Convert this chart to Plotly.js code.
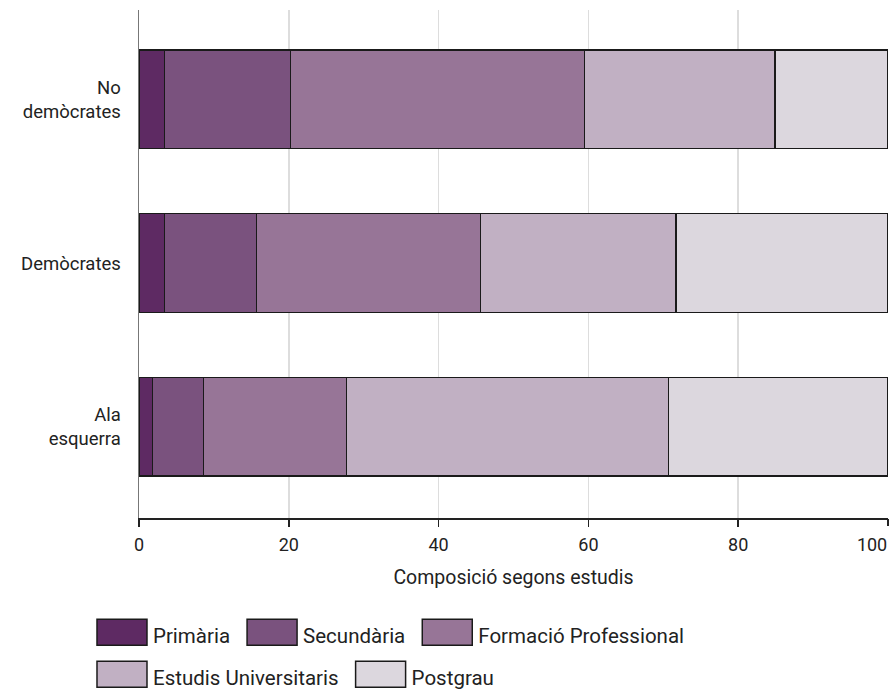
<!DOCTYPE html>
<html>
<head>
<meta charset="utf-8">
<script src="https://cdn.plot.ly/plotly-3.0.1.min.js"></script>
<style>
  html, body { margin: 0; padding: 0; background: #ffffff; overflow: hidden; }
  #chart { width: 890px; height: 694px; }
</style>
</head>
<body>
<div id="chart"></div>
<script>
// Categories, bottom to top as drawn on the y axis
const categories = ["Ala<br>esquerra", "Demòcrates", "No<br>demòcrates"];

// Shares (%) of each education level per group
const primaria      = [1.8, 3.4, 3.4];
const secundaria    = [6.8, 12.3, 16.8];
const formacioProf  = [19.1, 29.9, 39.3];
const universitaris = [43.0, 26.1, 25.4];
const postgrau      = [29.3, 28.3, 15.1];

const seriesNames  = ["Primària", "Secundària", "Formació Professional", "Estudis Universitaris", "Postgrau"];
const seriesColors = ["#5e2a63", "#7a527e", "#977597", "#c1b0c3", "#dcd7de"];
const seriesValues = [primaria, secundaria, formacioProf, universitaris, postgrau];
const legendOf     = ["legend", "legend", "legend", "legend2", "legend2"];

const xTicks = [0, 20, 40, 60, 80];
const xLastTick = [100];

const FONT = "Roboto, 'DejaVu Sans', sans-serif";

const traces = seriesNames.map((name, i) => ({
  type: "bar",
  orientation: "h",
  name: name,
  y: categories,
  x: seriesValues[i],
  marker: { color: seriesColors[i], line: { color: "#1a1a1a", width: 1.5 } },
  legend: legendOf[i],
  hoverinfo: "x+name"
}));

// invisible anchor so that the overlay axis carrying the end label is drawn
traces.push({
  type: "scatter", mode: "markers",
  x: xLastTick, y: [categories[1]],
  xaxis: "x2", yaxis: "y",
  marker: { opacity: 0, size: 1 },
  showlegend: false, hoverinfo: "skip"
});

const layout = {
  width: 890,
  height: 694,
  margin: { l: 139, r: 2, t: 10, b: 176 },
  paper_bgcolor: "#ffffff",
  plot_bgcolor: "#ffffff",
  barmode: "stack",
  bargap: 0.396,
  font: { family: FONT, size: 18, color: "#222222" },
  showlegend: true,
  xaxis: {
    range: [0, 100],
    tickvals: xTicks,
    ticks: "outside",
    ticklen: 7,
    tickwidth: 1.5,
    tickcolor: "#222222",
    ticklabelstandoff: 3,
    showline: true,
    linecolor: "#222222",
    linewidth: 1.5,
    showgrid: true,
    gridcolor: "#dddddd",
    gridwidth: 1.5,
    zeroline: false,
    automargin: false,
    tickfont: { family: FONT, size: 18, color: "#222222" },
    title: { text: "Composició segons estudis", font: { family: FONT, size: 19.5, color: "#222222" }, standoff: 16 },
    fixedrange: true
  },
  xaxis2: {
    overlaying: "x",
    anchor: "y",
    side: "bottom",
    range: [0, 100],
    tickvals: xLastTick,
    ticks: "outside",
    ticklen: 7,
    tickwidth: 1.5,
    tickcolor: "#222222",
    ticklabelposition: "outside left",
    ticklabelstandoff: 10,
    showline: false,
    showgrid: true,
    gridcolor: "#dddddd",
    gridwidth: 1.5,
    zeroline: false,
    automargin: false,
    tickfont: { family: FONT, size: 18, color: "#222222" },
    fixedrange: true
  },
  yaxis: {
    type: "category",
    categoryorder: "array",
    categoryarray: categories,
    range: [-0.557, 2.545],
    ticks: "outside",
    ticklen: 13,
    tickcolor: "rgba(0,0,0,0)",
    showline: true,
    linecolor: "#777777",
    linewidth: 1.5,
    showgrid: false,
    zeroline: false,
    automargin: false,
    tickfont: { family: FONT, size: 18.5, color: "#222222" },
    fixedrange: true
  },
  legend: {
    orientation: "h",
    xref: "container", yref: "container",
    x: 0.0955, xanchor: "left",
    y: 0.1131, yanchor: "top",
    itemwidth: 58,
    font: { family: FONT, size: 20.5, color: "#222222" },
    bgcolor: "rgba(0,0,0,0)",
    traceorder: "normal"
  },
  legend2: {
    orientation: "h",
    xref: "container", yref: "container",
    x: 0.0955, xanchor: "left",
    y: 0.0526, yanchor: "top",
    itemwidth: 58,
    font: { family: FONT, size: 20.5, color: "#222222" },
    bgcolor: "rgba(0,0,0,0)",
    traceorder: "normal"
  }
};

Plotly.newPlot("chart", traces, layout, { displayModeBar: false, staticPlot: true }).then(() => {
  // widen legend swatches into the large boxes of the reference
  document.querySelectorAll("#chart .legendpoints path").forEach(p => {
    p.setAttribute("d", "M28,10H-22V-16H28Z");
  });
});
</script>
</body>
</html>
